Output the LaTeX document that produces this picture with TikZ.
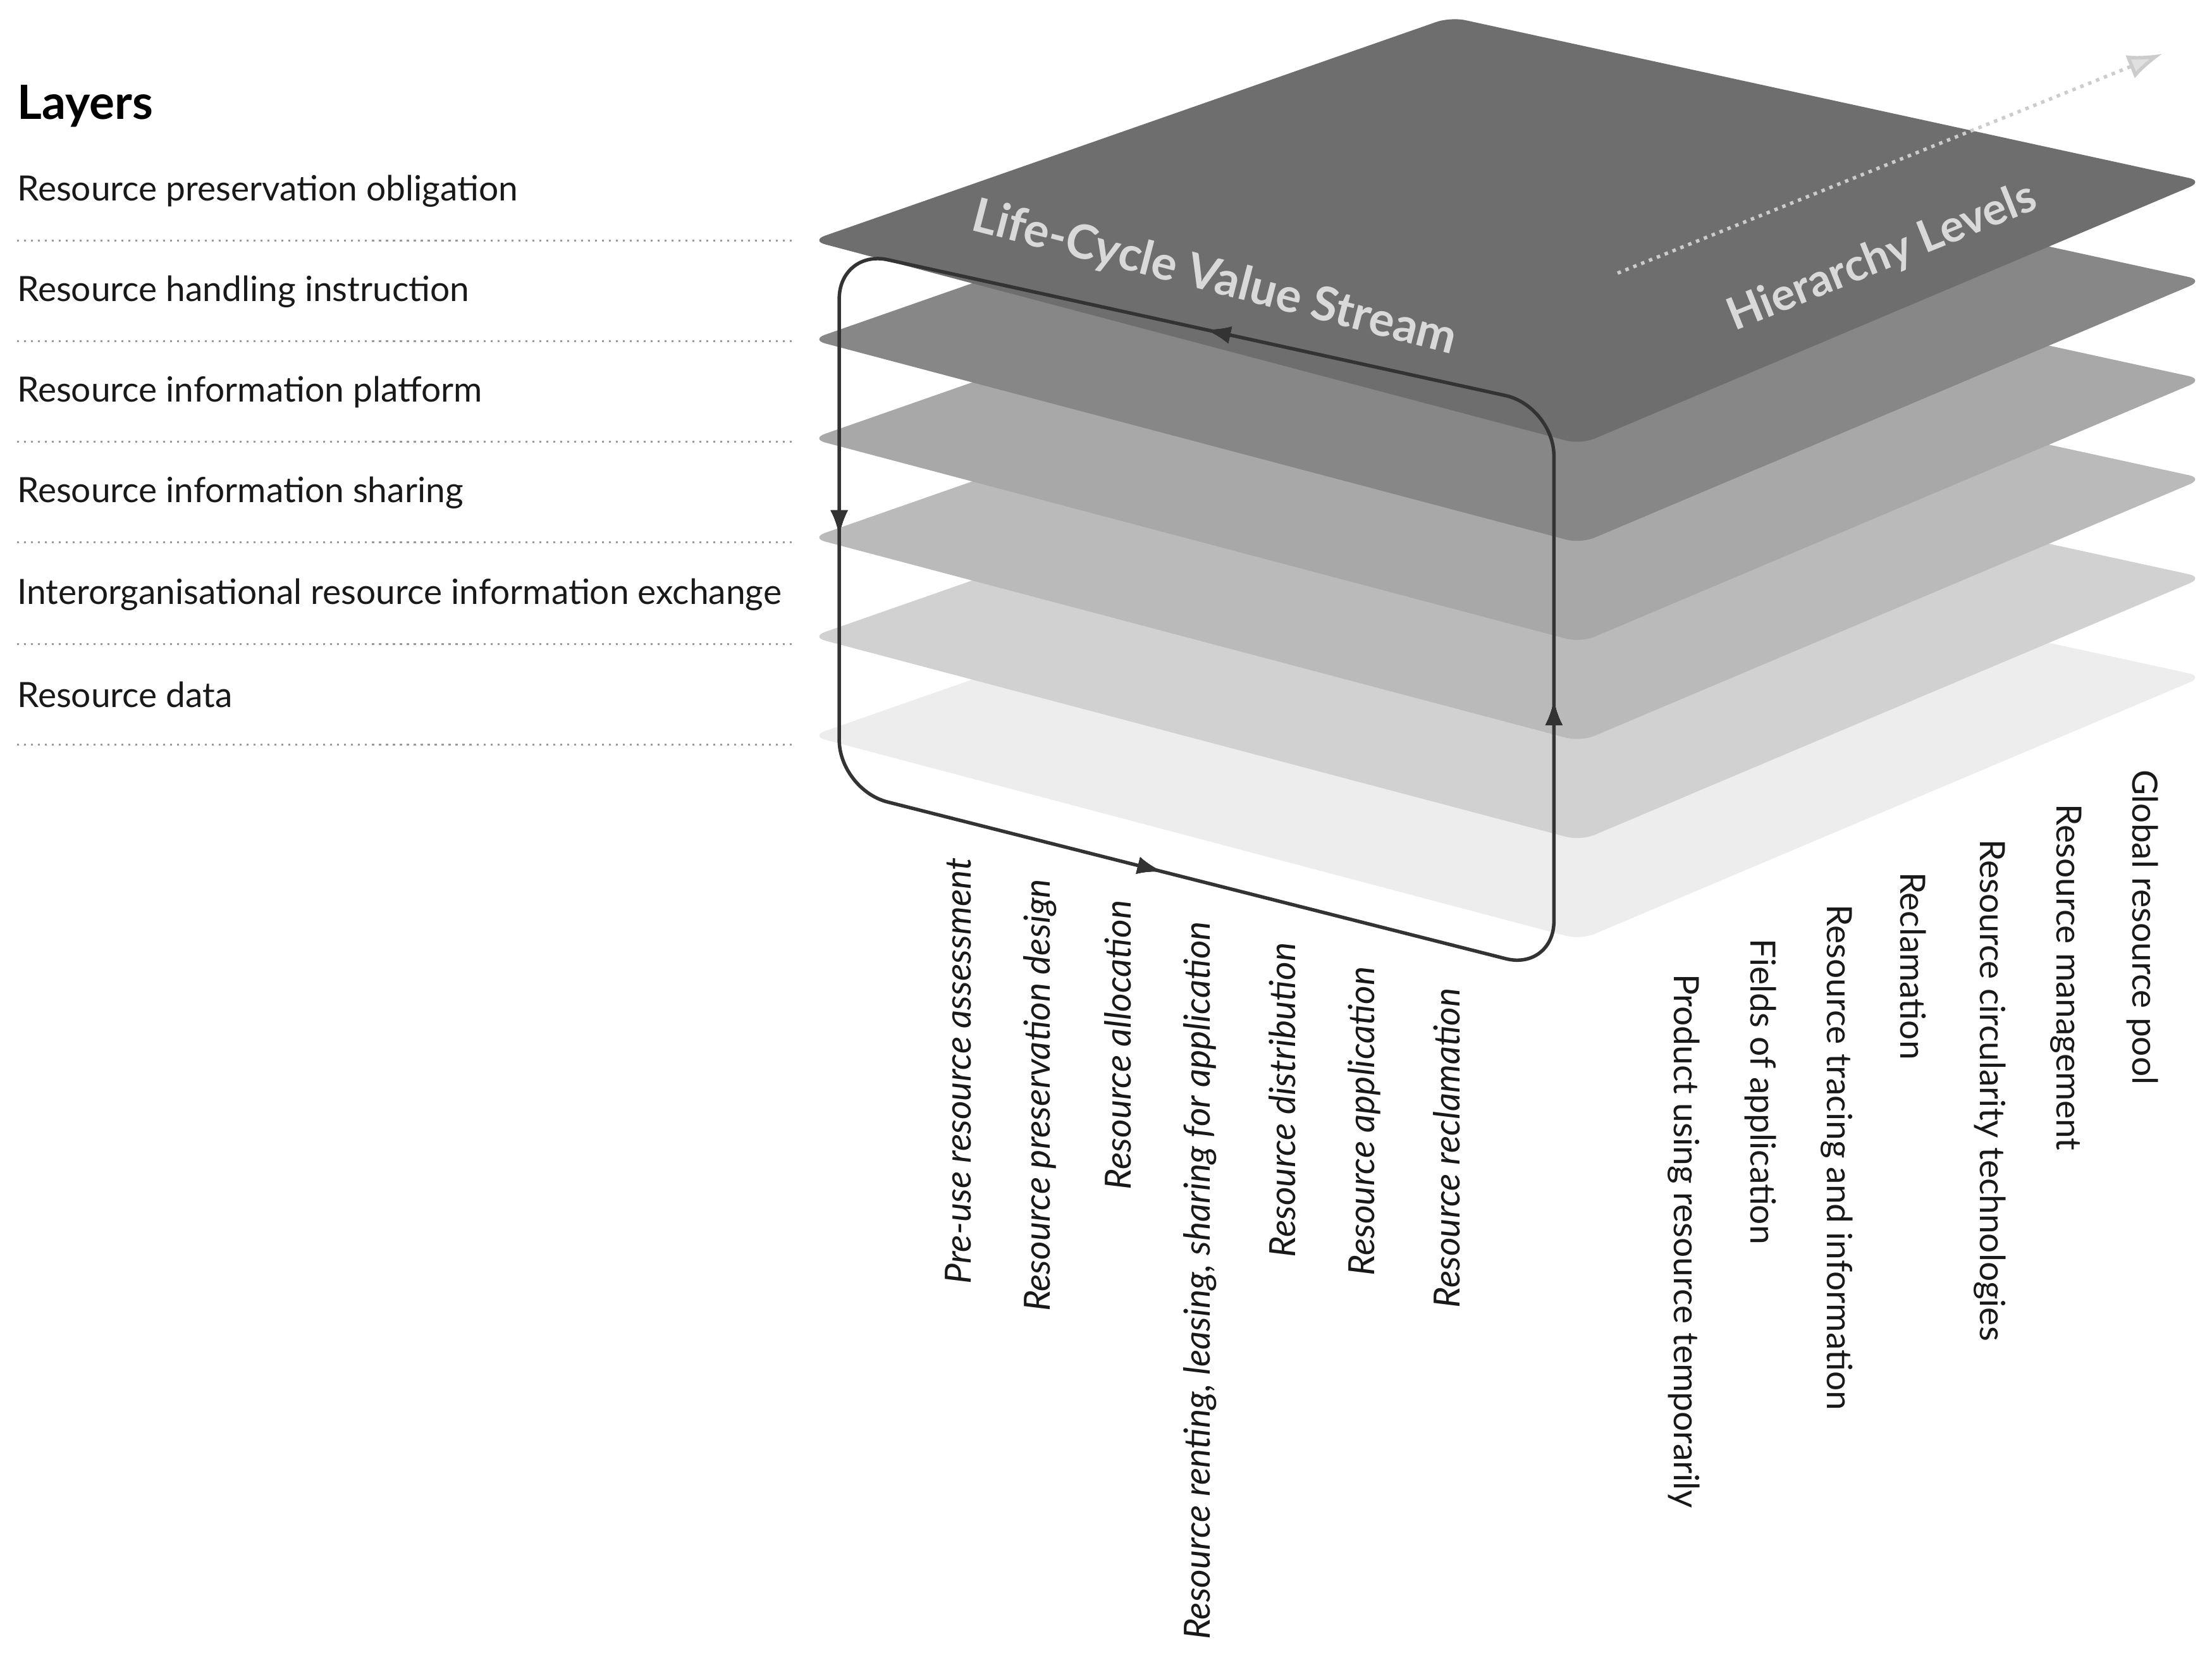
\documentclass[tikz,border=0pt]{standalone}
\usepackage{fontspec}
\setmainfont{Lato}
\usetikzlibrary{arrows.meta,decorations.markings}
\begin{document}
\begin{tikzpicture}[x=0.02cm,y=-0.02cm,
  plate/.style={rounded corners=6pt},
  lbl/.style={anchor=west,font=\fontsize{14}{16}\selectfont,text=black!90},
  dl/.style={draw=black!40,dotted,line width=0.8pt},
  vl/.style={font=\fontsize{14.5}{16}\selectfont\itshape,rotate=90,anchor=east,text=black!90},
  hl/.style={font=\fontsize{14}{16}\selectfont,rotate=-90,anchor=west,text=black!90},
  arr/.style={decoration={markings,mark=at position #1 with {\arrow{Latex[length=10pt,width=7pt]}}},postaction=decorate}]
\useasboundingbox (0,0) rectangle (1563,1186);
% plates
\foreach \o/\c in {350/7,280/18,210/27,140/34,70/47,0/57}{
  \fill[plate,fill=black!\c] (573,170+\o) -- (1025,12+\o) -- (1557,128+\o) -- (1117,314+\o) -- cycle;
}
% layer labels
\node[font=\fontsize{19}{22}\selectfont\bfseries,anchor=west] (L) at (6,75) {Layers};
\foreach \y/\t [count=\i] in {135/Resource preservation obligation,206/Resource handling instruction,277/Resource information platform,348/Resource information sharing,420/Interorganisational resource information exchange,491/Resource data}{
  \node[lbl] (l\i) at (6,\y) {\t};
  \draw[dl] (12,\y+35) -- (560,\y+35);
}
% loop
\draw[black!80,line width=1.4pt,rounded corners=20pt,arr=0.095,arr=0.325,arr=0.585,arr=0.84]
  (593,176) -- (593,558) -- (1098,686) -- (1098,287) -- cycle;
% plate texts
\node[font=\fontsize{19}{22}\selectfont\bfseries,text=black!15,rotate=-14.5] (lc) at (858,197) {Life-Cycle Value Stream};
\node[font=\fontsize{18}{22}\selectfont\bfseries,text=black!15,rotate=22] (hlv) at (1330,182) {Hierarchy Levels};
\coordinate (d1) at (1143,193);
\coordinate (d2) at (1528,38);
\draw[black!20,dotted,line width=1.4pt,-{Latex[length=14pt,width=10pt,fill=black!12]}] (d1) -- (d2);
% bottom labels
\foreach \x/\y/\t [count=\i] in {677/600/Pre-use resource assessment,735/615/Resource preservation design,790/630/Resource allocation,848/645/{Resource renting, leasing, sharing for application},906/660/Resource distribution,964/677/Resource application,1022/692/Resource reclamation}{
  \node[vl] (v\i) at (\x,\y) {\t};
}
\foreach \x/\y/\t [count=\i] in {1190/682/Product using resource temporarily,1244/657/Fields of application,1298/633/Resource tracing and information,1352/610/Reclamation,1406/587/Resource circularity technologies,1460/562/Resource management,1514/538/Global resource pool}{
  \node[hl] (h\i) at (\x,\y) {\t};
}
\end{tikzpicture}
\end{document}
